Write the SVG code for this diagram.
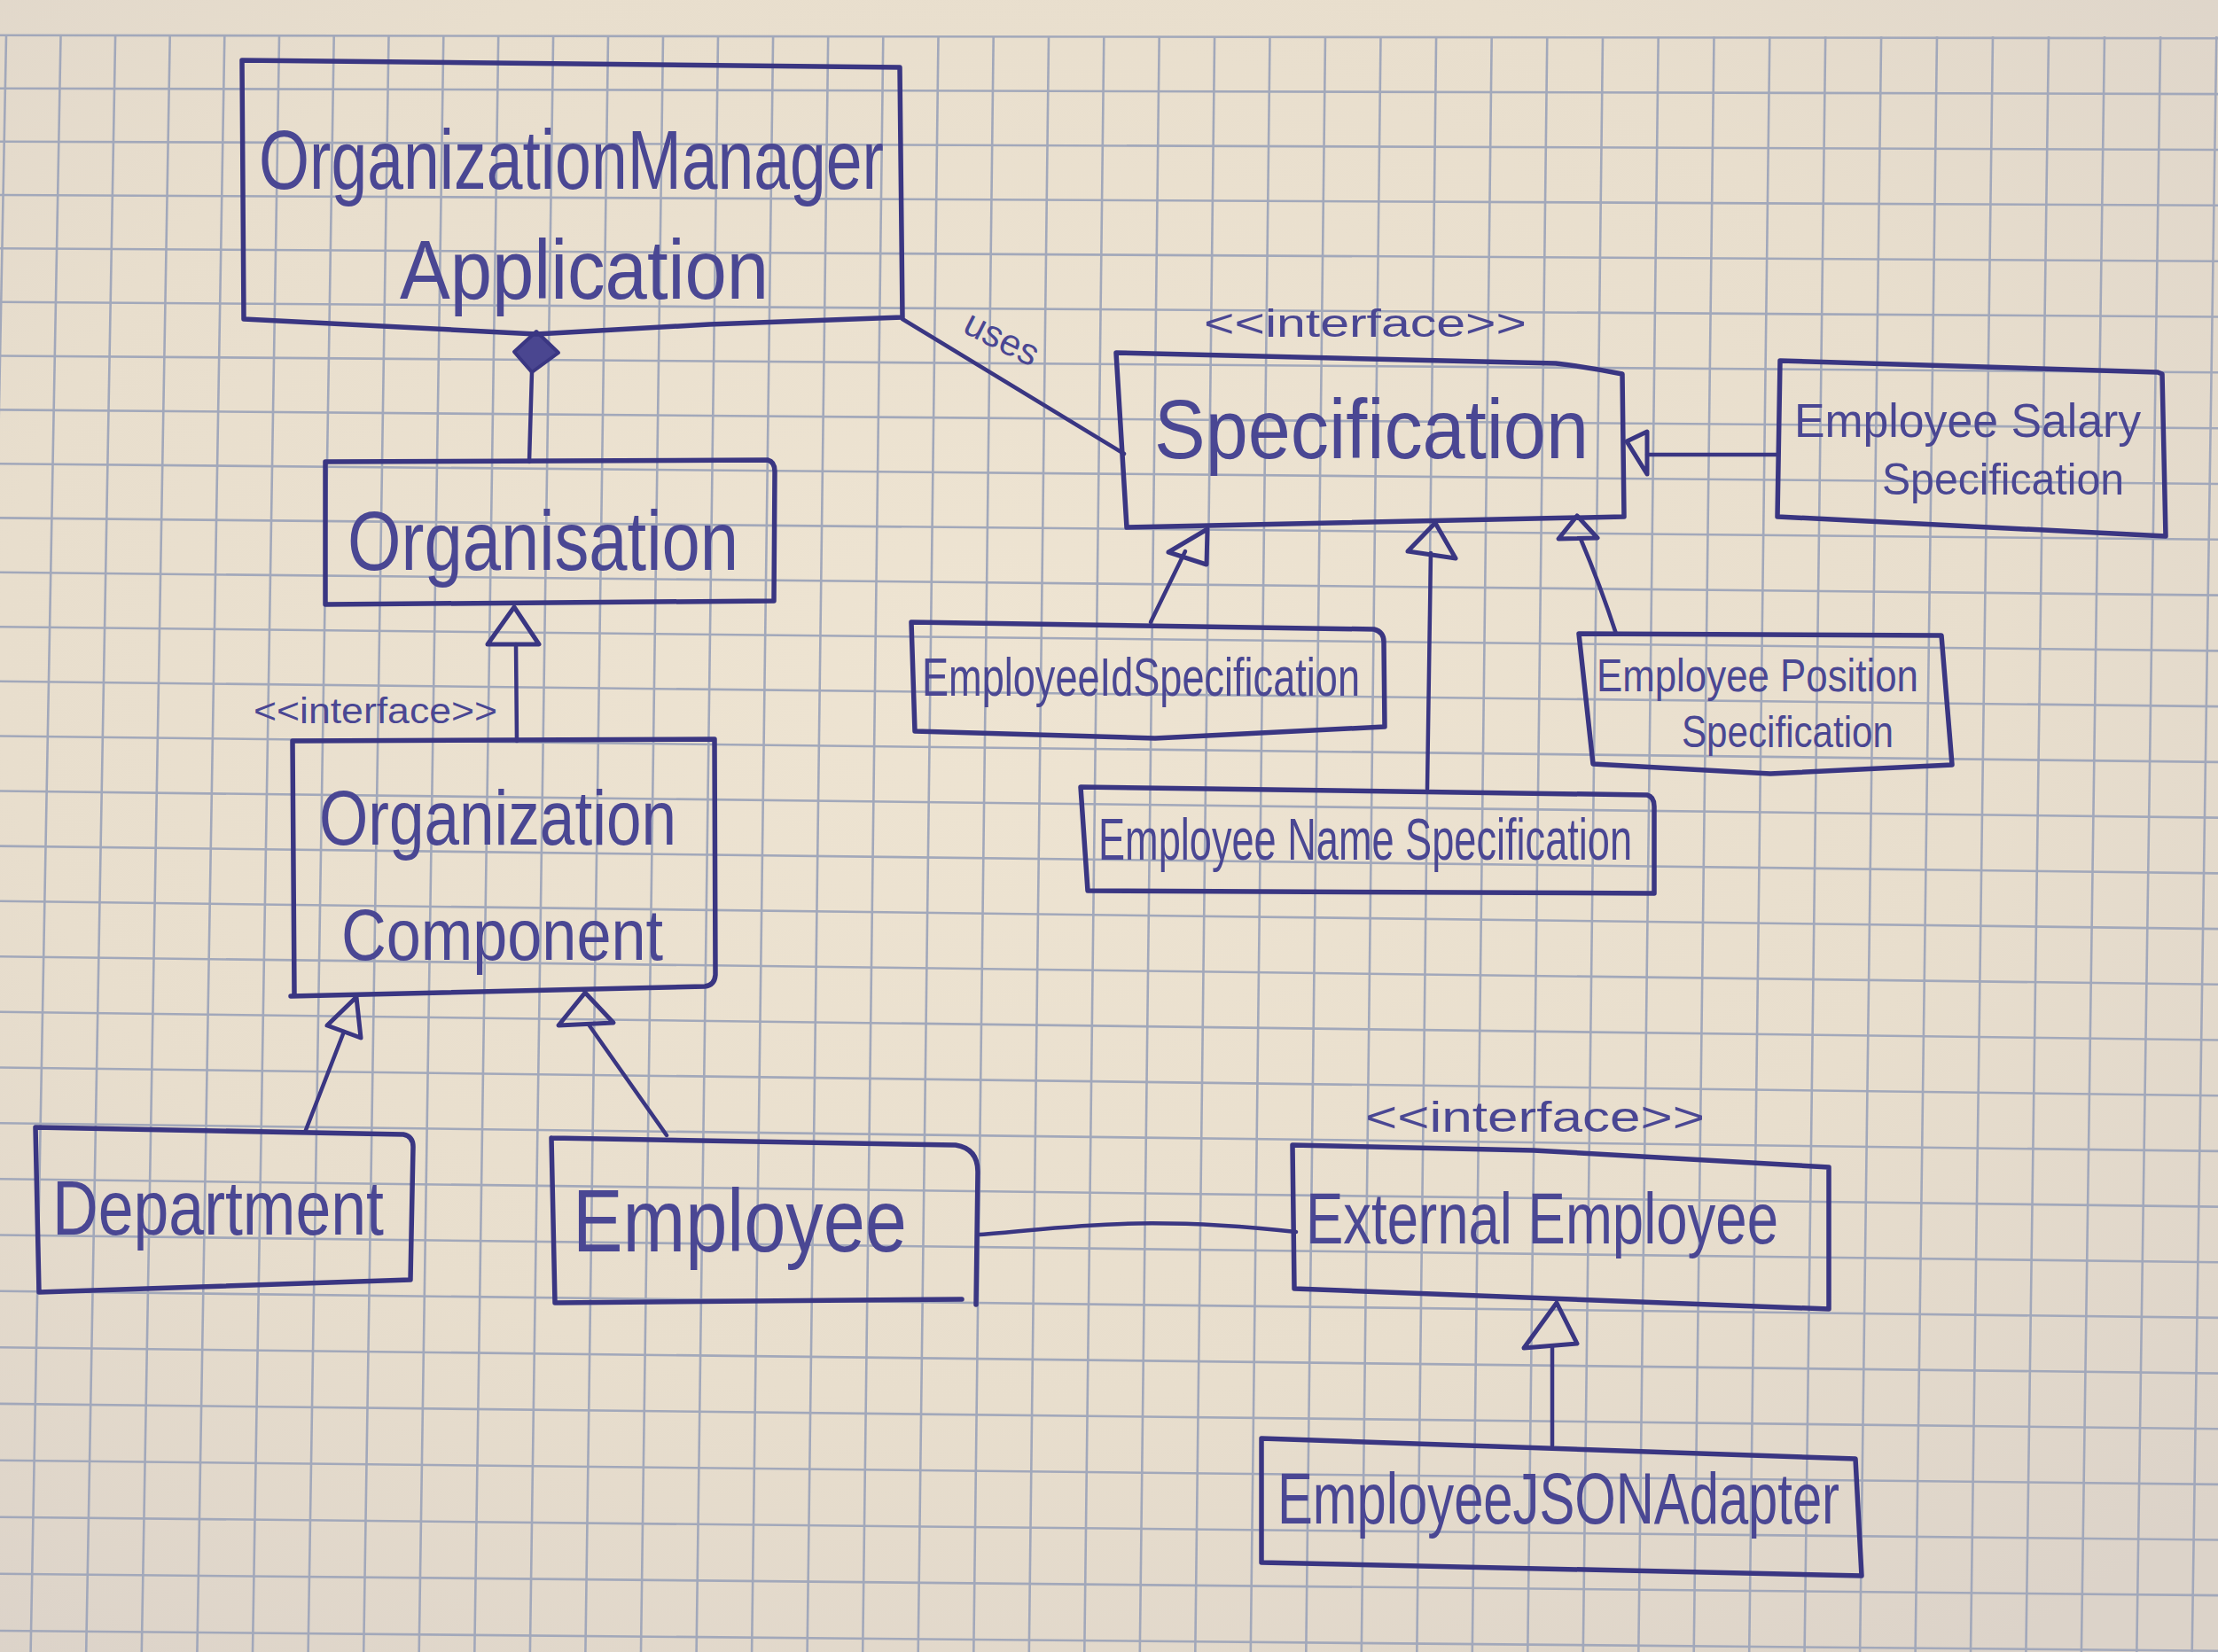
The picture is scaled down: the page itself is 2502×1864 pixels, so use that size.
<svg xmlns="http://www.w3.org/2000/svg" width="2502" height="1864" viewBox="0 0 2502 1864">
<defs>
<radialGradient id="paper" cx="0.45" cy="0.4" r="0.75">
<stop offset="0" stop-color="#eee4d2"/>
<stop offset="0.6" stop-color="#e8decd"/>
<stop offset="1" stop-color="#dcd3c9"/>
</radialGradient>
<style>
.g line{stroke:#a2a8ba;stroke-width:2.6}
.box{fill:none;stroke:#3a3682;stroke-width:5.5;stroke-linejoin:round;stroke-linecap:round}
.ln{fill:none;stroke:#3a3682;stroke-width:4.5;stroke-linecap:round;stroke-linejoin:round}
.tri{fill:none;stroke:#3a3682;stroke-width:5;stroke-linejoin:round}
.dia{fill:#4a4690;stroke:#3a3682;stroke-width:4;stroke-linejoin:round}
text{font-family:"Liberation Sans",Arial,sans-serif;fill:#4a4793}
</style>
</defs>
<rect width="2502" height="1864" fill="url(#paper)"/>
<g class="g">
<line x1="0" y1="39.8" x2="2502" y2="43.2"/>
<line x1="0" y1="99.7" x2="2502" y2="106.1"/>
<line x1="0" y1="159.7" x2="2502" y2="169"/>
<line x1="0" y1="220" x2="2502" y2="231.8"/>
<line x1="0" y1="280.3" x2="2502" y2="294.7"/>
<line x1="0" y1="340.8" x2="2502" y2="357.5"/>
<line x1="0" y1="401.5" x2="2502" y2="420.3"/>
<line x1="0" y1="462.4" x2="2502" y2="483.2"/>
<line x1="0" y1="523.3" x2="2502" y2="546"/>
<line x1="0" y1="584.4" x2="2502" y2="608.8"/>
<line x1="0" y1="645.8" x2="2502" y2="671.6"/>
<line x1="0" y1="707.2" x2="2502" y2="734.4"/>
<line x1="0" y1="768.8" x2="2502" y2="797.1"/>
<line x1="0" y1="830.5" x2="2502" y2="859.9"/>
<line x1="0" y1="892.5" x2="2502" y2="922.6"/>
<line x1="0" y1="954.6" x2="2502" y2="985.4"/>
<line x1="0" y1="1016.8" x2="2502" y2="1048.1"/>
<line x1="0" y1="1079.2" x2="2502" y2="1110.8"/>
<line x1="0" y1="1141.8" x2="2502" y2="1173.5"/>
<line x1="0" y1="1204.5" x2="2502" y2="1236.2"/>
<line x1="0" y1="1267.3" x2="2502" y2="1298.9"/>
<line x1="0" y1="1330.3" x2="2502" y2="1361.6"/>
<line x1="0" y1="1393.5" x2="2502" y2="1424.3"/>
<line x1="0" y1="1456.8" x2="2502" y2="1486.9"/>
<line x1="0" y1="1520.2" x2="2502" y2="1549.6"/>
<line x1="0" y1="1583.9" x2="2502" y2="1612.2"/>
<line x1="0" y1="1647.7" x2="2502" y2="1674.9"/>
<line x1="0" y1="1711.7" x2="2502" y2="1737.5"/>
<line x1="0" y1="1775.7" x2="2502" y2="1800.1"/>
<line x1="0" y1="1840" x2="2502" y2="1862.7"/>
<line x1="7" y1="41" x2="-28" y2="1864"/>
<line x1="68.5" y1="41" x2="34.6" y2="1864"/>
<line x1="130.1" y1="41" x2="97.2" y2="1864"/>
<line x1="191.7" y1="41" x2="159.8" y2="1864"/>
<line x1="253.3" y1="41" x2="222.4" y2="1864"/>
<line x1="315" y1="41" x2="285" y2="1864"/>
<line x1="376.7" y1="41" x2="347.6" y2="1864"/>
<line x1="438.5" y1="41" x2="410.2" y2="1864"/>
<line x1="500.3" y1="41" x2="472.7" y2="1864"/>
<line x1="562.2" y1="41" x2="535.3" y2="1864"/>
<line x1="624.1" y1="41" x2="597.9" y2="1864"/>
<line x1="686" y1="41" x2="660.4" y2="1864"/>
<line x1="748" y1="41" x2="723" y2="1864"/>
<line x1="810" y1="41" x2="785.6" y2="1864"/>
<line x1="872.1" y1="41" x2="848.1" y2="1864"/>
<line x1="934.2" y1="41" x2="910.6" y2="1864"/>
<line x1="996.3" y1="41" x2="973.2" y2="1864"/>
<line x1="1058.5" y1="41" x2="1035.7" y2="1864"/>
<line x1="1120.7" y1="41" x2="1098.3" y2="1864"/>
<line x1="1183" y1="41" x2="1160.8" y2="1864"/>
<line x1="1245.3" y1="41" x2="1223.3" y2="1864"/>
<line x1="1307.7" y1="41" x2="1285.8" y2="1864"/>
<line x1="1370.1" y1="41" x2="1348.3" y2="1864"/>
<line x1="1432.5" y1="41" x2="1410.8" y2="1864"/>
<line x1="1495" y1="41" x2="1473.3" y2="1864"/>
<line x1="1557.5" y1="41" x2="1535.8" y2="1864"/>
<line x1="1620.1" y1="41" x2="1598.3" y2="1864"/>
<line x1="1682.7" y1="41" x2="1660.8" y2="1864"/>
<line x1="1745.3" y1="41" x2="1723.3" y2="1864"/>
<line x1="1808" y1="41" x2="1785.8" y2="1864"/>
<line x1="1870.7" y1="41" x2="1848.3" y2="1864"/>
<line x1="1933.5" y1="41" x2="1910.7" y2="1864"/>
<line x1="1996.3" y1="41" x2="1973.2" y2="1864"/>
<line x1="2059.2" y1="41" x2="2035.6" y2="1864"/>
<line x1="2122.1" y1="41" x2="2098.1" y2="1864"/>
<line x1="2185" y1="41" x2="2160.6" y2="1864"/>
<line x1="2248" y1="41" x2="2223" y2="1864"/>
<line x1="2311" y1="41" x2="2285.4" y2="1864"/>
<line x1="2374" y1="41" x2="2347.9" y2="1864"/>
<line x1="2437.1" y1="41" x2="2410.3" y2="1864"/>
<line x1="2500.3" y1="41" x2="2472.7" y2="1864"/>
</g>

<g id="connectors">
<g id="c-composition">
<line class="ln" x1="600" y1="420" x2="597" y2="521"/>
<polygon class="dia" points="605,374 630,398 600,420 580,397"/>
</g>
<g id="c-uses">
<line class="ln" x1="1018" y1="360" x2="1268" y2="512"/>
<text x="1127" y="395" font-size="42" text-anchor="middle" transform="rotate(27 1127 388)">uses</text>
</g>
<g id="c-org-oc">
<line class="ln" x1="582" y1="727" x2="583" y2="836"/>
<polygon class="tri" points="580,685 608,727 550,727"/>
</g>
<g id="c-dept-oc">
<line class="ln" x1="388" y1="1164" x2="345" y2="1275"/>
<polygon class="tri" points="402,1125 407,1171 369,1157"/>
</g>
<g id="c-emp-oc">
<line class="ln" x1="664" y1="1156" x2="752" y2="1281"/>
<polygon class="tri" points="660,1120 692,1154 630,1157"/>
</g>
<g id="c-emp-ext">
<path class="ln" d="M1105,1393 C1200,1386 1280,1370 1462,1390"/>
</g>
<g id="c-json-ext">
<line class="ln" x1="1751" y1="1520" x2="1751" y2="1631"/>
<polygon class="tri" points="1756,1470 1779,1516 1719,1521"/>
</g>
<g id="c-id-spec">
<line class="ln" x1="1337" y1="622" x2="1298" y2="702"/>
<polygon class="tri" points="1362,597 1361,637 1318,623"/>
</g>
<g id="c-name-spec">
<line class="ln" x1="1614" y1="624" x2="1610" y2="890"/>
<polygon class="tri" points="1619,590 1642,630 1588,622"/>
</g>
<g id="c-pos-spec">
<path class="ln" d="M1783,608 Q1805,660 1823,715"/>
<polygon class="tri" points="1779,582 1802,607 1758,608"/>
</g>
<g id="c-sal-spec">
<line class="ln" x1="1858" y1="513" x2="2005" y2="513"/>
<polygon class="tri" points="1835,498 1858,487 1858,535"/>
</g>
</g>

<g id="n-organization-manager-application">
<path class="box" d="M273,68 L1015,76 L1018,358 L800,366 L605,377 L275,360 Z"/>
<text x="292" y="213" font-size="95" textLength="705" lengthAdjust="spacingAndGlyphs">OrganizationManager</text>
<text x="451" y="337" font-size="95" textLength="416" lengthAdjust="spacingAndGlyphs">Application</text>
</g>

<g id="n-organisation">
<path class="box" d="M367,521 L866,519 Q874,521 874,532 L873,678 L367,682 Z"/>
<text x="392" y="643" font-size="95" textLength="441" lengthAdjust="spacingAndGlyphs">Organisation</text>
</g>

<g id="n-organization-component">
<text x="286" y="816" font-size="40" textLength="275" lengthAdjust="spacingAndGlyphs">&lt;&lt;interface&gt;&gt;</text>
<path class="box" d="M330,836 L806,834 L807,1100 Q806,1112 795,1113 L328,1124 M332,1122 L330,836"/>
<text x="360" y="953" font-size="88" textLength="403" lengthAdjust="spacingAndGlyphs">Organization</text>
<text x="385" y="1083" font-size="82" textLength="363" lengthAdjust="spacingAndGlyphs">Component</text>
</g>

<g id="n-department">
<path class="box" d="M40,1272 L455,1280 Q466,1282 466,1294 L463,1444 L44,1458 Z"/>
<text x="59" y="1393" font-size="88" textLength="374" lengthAdjust="spacingAndGlyphs">Department</text>
</g>

<g id="n-employee">
<path class="box" d="M622,1284 L1078,1292 Q1103,1296 1103,1322 L1101,1472 M1085,1466 L626,1470 L622,1284"/>
<text x="646" y="1412" font-size="100" textLength="377" lengthAdjust="spacingAndGlyphs">Employee</text>
</g>

<g id="n-specification">
<text x="1358" y="380" font-size="45" textLength="364" lengthAdjust="spacingAndGlyphs">&lt;&lt;interface&gt;&gt;</text>
<path class="box" d="M1259,398 L1755,410 Q1790,414 1830,422 L1832,583 L1271,595 Z"/>
<text x="1302" y="517" font-size="95" textLength="490" lengthAdjust="spacingAndGlyphs">Specification</text>
</g>

<g id="n-employee-salary-specification">
<path class="box" d="M2008,407 L2434,420 L2439,422 L2443,605 L2005,583 Z"/>
<text x="2024" y="493" font-size="54" textLength="391" lengthAdjust="spacingAndGlyphs">Employee Salary</text>
<text x="2123" y="558" font-size="50" textLength="273" lengthAdjust="spacingAndGlyphs">Specification</text>
</g>

<g id="n-employee-id-specification">
<path class="box" d="M1028,702 L1550,710 Q1561,713 1561,724 L1562,820 L1303,833 L1032,825 Z"/>
<text x="1040" y="785" font-size="62" textLength="494" lengthAdjust="spacingAndGlyphs">EmployeeIdSpecification</text>
</g>

<g id="n-employee-name-specification">
<path class="box" d="M1219,888 L1858,897 Q1866,899 1866,910 L1866,1008 L1227,1005 Z"/>
<text x="1239" y="970" font-size="66" textLength="602" lengthAdjust="spacingAndGlyphs">Employee Name Specification</text>
</g>

<g id="n-employee-position-specification">
<path class="box" d="M1781,715 L2190,717 L2202,863 L1997,873 L1797,862 Z"/>
<text x="1801" y="780" font-size="52" textLength="363" lengthAdjust="spacingAndGlyphs">Employee Position</text>
<text x="1897" y="843" font-size="50" textLength="239" lengthAdjust="spacingAndGlyphs">Specification</text>
</g>

<g id="n-external-employee">
<text x="1540" y="1277" font-size="48" textLength="383" lengthAdjust="spacingAndGlyphs">&lt;&lt;interface&gt;&gt;</text>
<path class="box" d="M1458,1292 L1730,1298 L2063,1317 L2063,1477 L1460,1454 Z"/>
<text x="1473" y="1403" font-size="82" textLength="533" lengthAdjust="spacingAndGlyphs">External Employee</text>
</g>

<g id="n-employee-json-adapter">
<path class="box" d="M1423,1623 L2093,1646 L2100,1778 L1423,1763 Z"/>
<text x="1441" y="1719" font-size="82" textLength="634" lengthAdjust="spacingAndGlyphs">EmployeeJSONAdapter</text>
</g>
</svg>
